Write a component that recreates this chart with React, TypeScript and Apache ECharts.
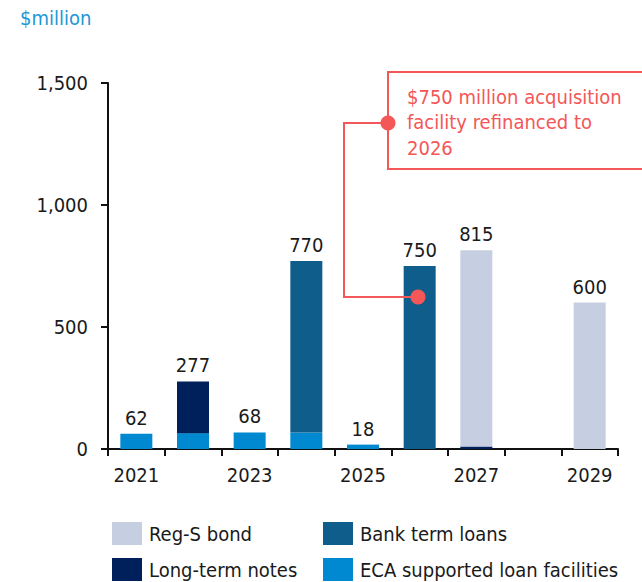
import React, { useEffect, useRef } from "react";
import * as echarts from "echarts";

const years = ["2021", "2022", "2023", "2024", "2025", "2026", "2027", "2028", "2029"];
const ecaLoans = [62, 65, 68, 68, 18, 0, 0, 0, 0];
const longTermNotes = [0, 212, 0, 0, 0, 0, 10, 0, 0];
const bankTermLoans = [0, 0, 0, 702, 0, 750, 0, 0, 0];
const regSBond = [0, 0, 0, 0, 0, 0, 805, 0, 600];
const totals: (number | null)[] = [62, 277, 68, 770, 18, 750, 815, null, 600];
const yTicks = [0, 500, 1000, 1500];
const annotationLines = ["$750 million acquisition", "facility refinanced to", "2026"];

const FONT = "'DejaVu Sans Condensed', 'DejaVu Sans', sans-serif";
const RED = "#f45757";
const COLORS = {
  reg: "#c5cfe1",
  bank: "#0e5d8b",
  lt: "#00205c",
  eca: "#0088d0",
};

export default function App() {
  const ref = useRef<HTMLDivElement>(null);
  useEffect(() => {
    if (!ref.current) return;
    const chart = echarts.init(ref.current, null, { renderer: "svg" });
    const legendItem = (name: string, left: number, top: number) => ({
      data: [name],
      left,
      top,
      padding: 0,
      itemWidth: 30,
      itemHeight: 23,
      itemGap: 0,
      icon: "rect",
      selectedMode: false,
      textStyle: { fontFamily: FONT, fontSize: 20, color: "#1a1a1a", padding: [0, 0, 0, 2] },
    });
    const barSeries = (name: string, data: number[], color: string) => ({
      name,
      type: "bar",
      stack: "total",
      barWidth: 32,
      data: data.map((v) => (v === 0 ? "-" : v)),
      itemStyle: { color },
      emphasis: { disabled: true },
    });
    chart.setOption({
      animation: false,
      textStyle: { fontFamily: FONT },
      grid: { left: 108, right: 24, top: 83, bottom: 133, containLabel: false, outerBoundsMode: "none" },
      legend: [
        legendItem("Reg-S bond", 112, 522),
        legendItem("Bank term loans", 323, 522),
        legendItem("Long-term notes", 112, 558),
        legendItem("ECA supported loan facilities", 323, 558),
      ],
      xAxis: {
        type: "category",
        data: years,
        axisLine: { lineStyle: { color: "#111", width: 2 } },
        axisTick: { show: true, interval: 0, length: 7, lineStyle: { color: "#111", width: 2 } },
        axisLabel: { interval: 1, fontSize: 20, color: "#1a1a1a", margin: 16, fontFamily: FONT },
      },
      yAxis: {
        type: "value",
        min: yTicks[0],
        max: yTicks[yTicks.length - 1],
        interval: 500,
        splitLine: { show: false },
        axisLine: { show: true, lineStyle: { color: "#111", width: 2 } },
        axisTick: { show: true, length: 7, lineStyle: { color: "#111", width: 2 } },
        axisLabel: {
          fontSize: 20,
          color: "#1a1a1a",
          margin: 20,
          fontFamily: FONT,
          formatter: (v: number) => v.toLocaleString("en-US"),
        },
      },
      series: [
        barSeries("ECA supported loan facilities", ecaLoans, COLORS.eca),
        barSeries("Long-term notes", longTermNotes, COLORS.lt),
        barSeries("Bank term loans", bankTermLoans, COLORS.bank),
        barSeries("Reg-S bond", regSBond, COLORS.reg),
        {
          name: "Total",
          type: "bar",
          stack: "total",
          barWidth: 32,
          data: totals.map((t) => (t === null ? "-" : 0)),
          itemStyle: { color: "transparent" },
          label: {
            show: true,
            position: "top",
            distance: 6,
            fontSize: 20,
            color: "#1a1a1a",
            fontFamily: FONT,
            formatter: (p: any) => {
              const t = totals[p.dataIndex];
              return t === null ? "" : String(t);
            },
          },
          emphasis: { disabled: true },
        },
      ],
      graphic: [
        {
          type: "text",
          left: 20,
          top: 8,
          style: { text: "$million", fontSize: 20, fill: "#1b98d5", fontFamily: FONT },
        },
        {
          type: "rect",
          shape: { x: 388, y: 72, width: 280, height: 97 },
          style: { fill: "#fff", stroke: RED, lineWidth: 2 },
          z: 10,
        },
        {
          type: "text",
          x: 407,
          y: 84,
          style: {
            text: annotationLines.join("\n"),
            fontSize: 20,
            lineHeight: 25.5,
            fill: RED,
            fontFamily: FONT,
          },
          z: 11,
        },
        {
          type: "polyline",
          shape: { points: [[388, 123], [344, 123], [344, 297], [418, 297]] },
          style: { stroke: RED, lineWidth: 2, fill: "none" },
          z: 11,
        },
        { type: "circle", shape: { cx: 388, cy: 123, r: 7.5 }, style: { fill: RED }, z: 12 },
        { type: "circle", shape: { cx: 418, cy: 297, r: 7.5 }, style: { fill: RED }, z: 12 },
      ],
    });
    return () => chart.dispose();
  }, []);
  return <div ref={ref} style={{ width: 642, height: 582, position: "absolute", left: 0, top: 0 }} />;
}
